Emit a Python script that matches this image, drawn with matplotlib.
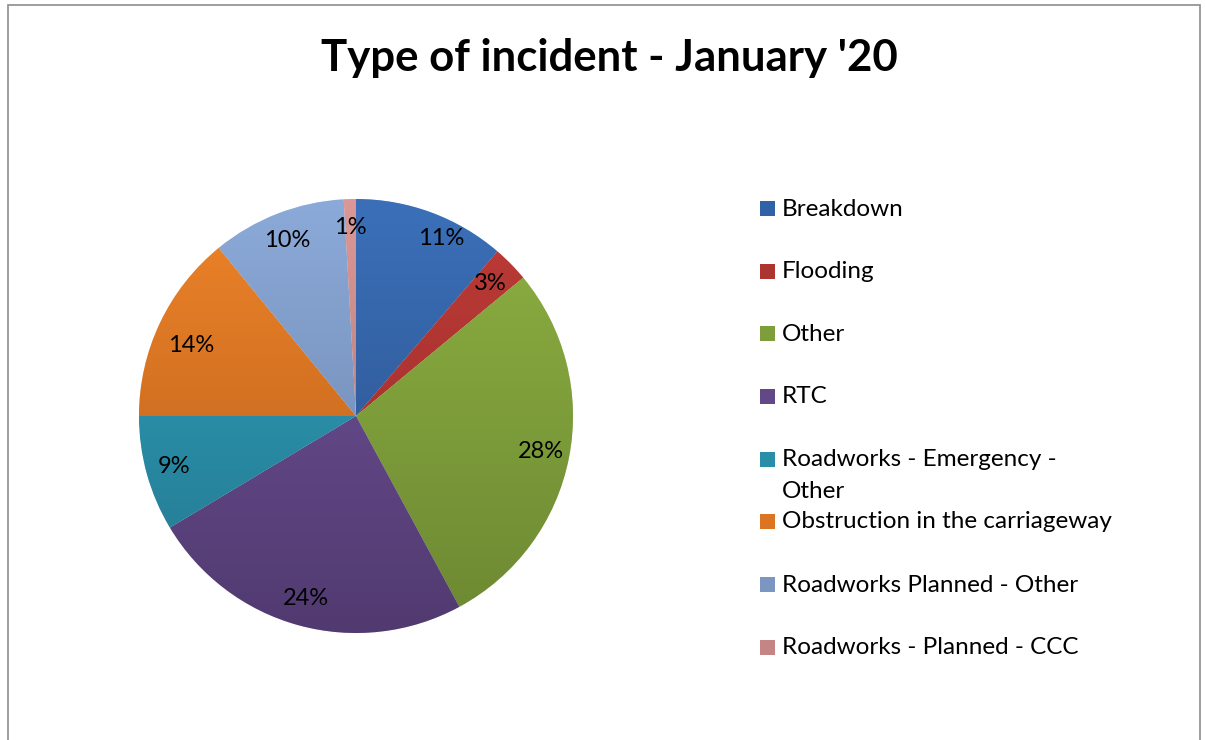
import numpy as np
import matplotlib
matplotlib.use("Agg")
import matplotlib.pyplot as plt
from matplotlib.colors import LinearSegmentedColormap
from matplotlib.patches import Rectangle

plt.rcParams['font.family'] = ['Lato', 'DejaVu Sans']

# data (share of incidents, %)
categories = ['Breakdown', 'Flooding', 'Other', 'RTC', 'Roadworks - Emergency -\nOther',
              'Obstruction in the carriageway', 'Roadworks Planned - Other',
              'Roadworks - Planned - CCC']
shares = [11.3, 2.7, 28.1, 24.3, 8.6, 14.1, 10.0, 0.9]

# Excel-style gradient: lighter top, darker bottom
top_colors = ['#3b70b9', '#bd3b37', '#8eb142', '#71549b', '#30a1be', '#ef8429', '#8caad9', '#db9896']
bot_colors = ['#294d86', '#982c29', '#6c8832', '#513a70', '#23778d', '#b45d1b', '#6880a6', '#a67170']

W, H = 1205, 740
fig = plt.figure(figsize=(W / 100, H / 100), dpi=100)
ax = fig.add_axes([0, 0, 1, 1])

cx, cy, R = 356, H - 416, 217
wedges, texts, autotexts = ax.pie(
    shares, startangle=90, counterclock=False, center=(cx, cy), radius=R,
    colors=top_colors, autopct=lambda p: f'{p:.0f}%', pctdistance=0.87,
    textprops=dict(fontsize=17, color='black'), frame=True,
    wedgeprops=dict(linewidth=0.4, edgecolor='white'))
ax.set_xlim(0, W)
ax.set_ylim(0, H)
ax.set_aspect('equal')
ax.axis('off')

# gradient fill clipped to each wedge
grad = np.linspace(1, 0, 256).reshape(-1, 1)
for w, c0, c1 in zip(wedges, top_colors, bot_colors):
    cmap = LinearSegmentedColormap.from_list('g', [c1, c0])
    im = ax.imshow(grad, cmap=cmap, extent=(cx - R, cx + R, cy - R, cy + R),
                   origin='upper', aspect='auto', zorder=w.get_zorder() + 0.1)
    im.set_clip_path(w)
for t in autotexts:
    t.set_zorder(5)
# Excel nudged a couple of labels
x0, y0 = autotexts[0].get_position()
autotexts[0].set_position((x0 + 20, y0))
x1, y1 = autotexts[5].get_position()
autotexts[5].set_position((x1 + 6, y1 - 10))

# title
fig.text(0.506, 1 - 58 / H, "Type of incident - January '20", ha='center', va='center',
         fontsize=31.5, fontweight='bold')

# legend drawn by hand to follow the Excel layout
leg_y = [209, 272, 334, 397, 460, 522, 585, 648]
leg_colors = ['#3062a8', '#ae3431', '#7e9e3b', '#624886', '#2a8ea8', '#dc7424', '#7b96c0', '#c58584']
for lab, y, col in zip(categories, leg_y, leg_colors):
    fig.patches.append(Rectangle((760 / W, 1 - (y + 7) / H), 15 / W, 15 / H,
                                 transform=fig.transFigure, facecolor=col, edgecolor='none'))
    for k, line in enumerate(lab.split('\n')):
        fig.text(782 / W, 1 - (y + 31 * k) / H, line, ha='left', va='center', fontsize=17.5)

# outer chart frame
fig.patches.append(Rectangle((8 / W, -0.05), (1200 - 8) / W, 1.05 - 5 / H,
                             transform=fig.transFigure, fill=False, edgecolor='#8c8c8c', linewidth=1.2))

fig.savefig('out.png', dpi=100)
